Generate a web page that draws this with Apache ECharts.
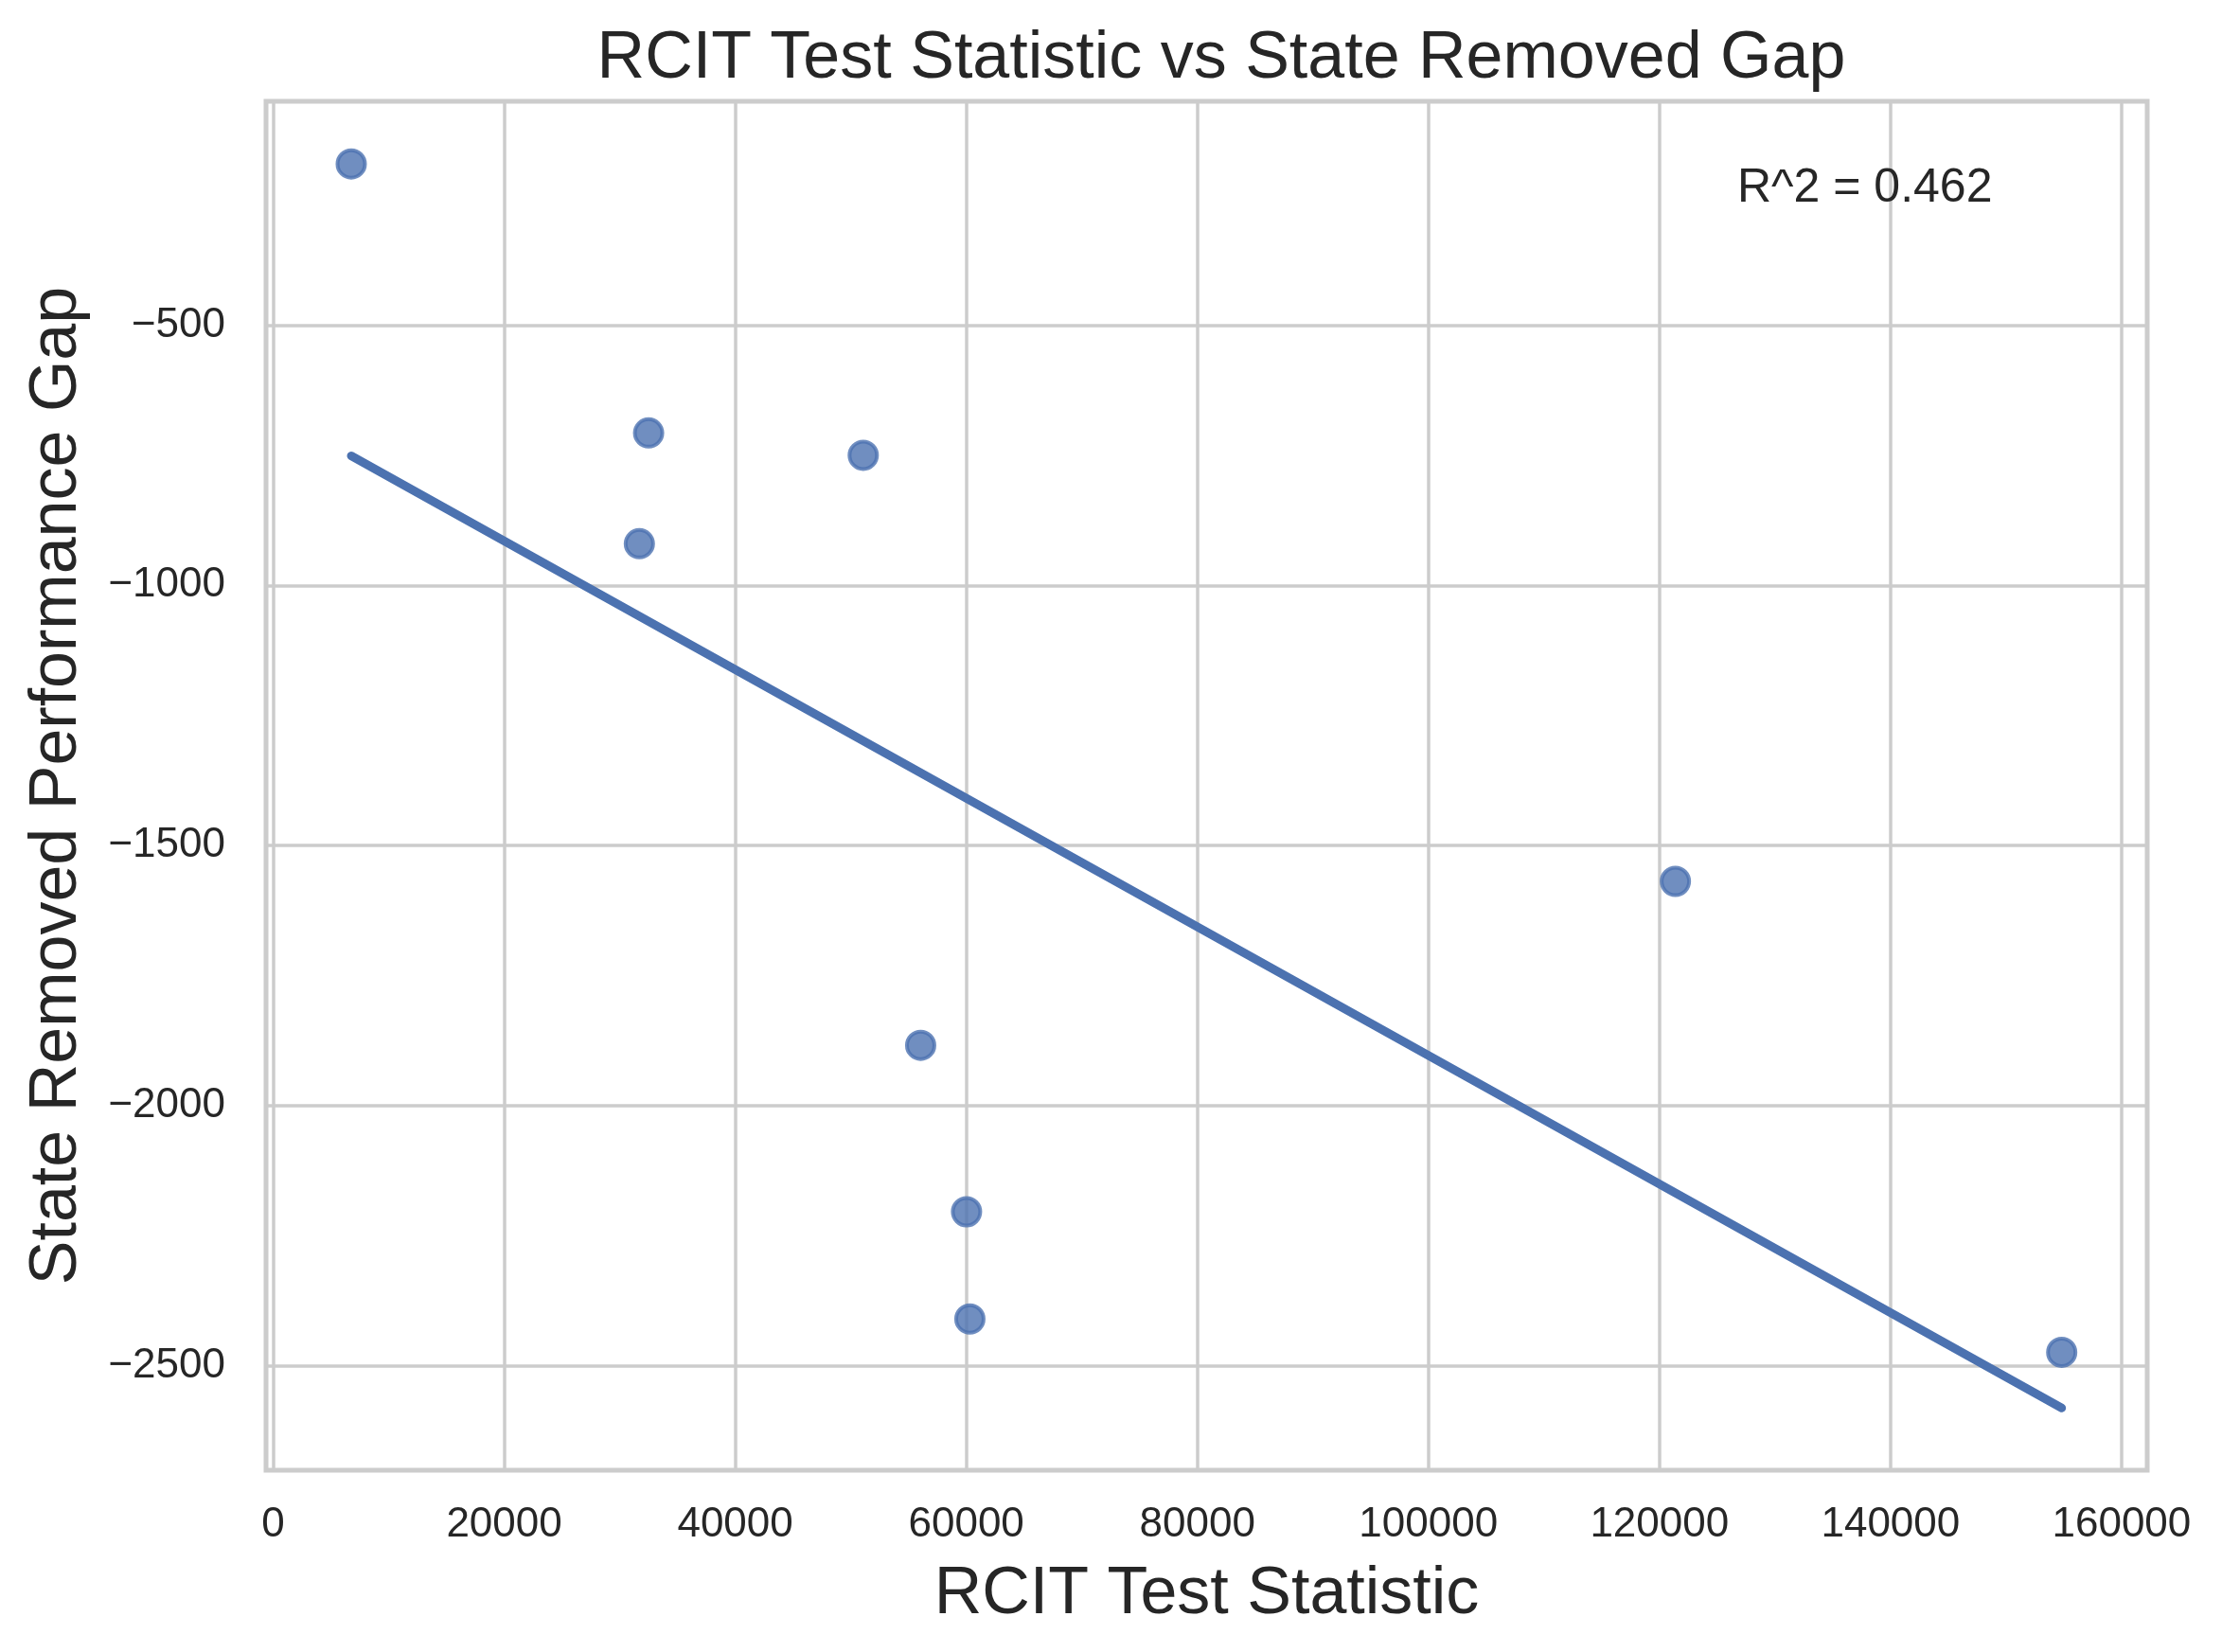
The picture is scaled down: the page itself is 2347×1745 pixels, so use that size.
<!DOCTYPE html>
<html>
<head>
<meta charset="utf-8">
<script src="https://cdn.jsdelivr.net/npm/echarts@6/dist/echarts.min.js"></script>
<style>
html,body{margin:0;padding:0;background:#fff;}
#chart{width:2347px;height:1745px;}
</style>
</head>
<body>
<div id="chart"></div>
<script>
// Data
const rcitStatistic = [6760, 32500, 31700, 51080, 56050, 60020, 60310, 121380, 154820];
const removedGap = [-190, -707, -920, -750, -1884, -2204, -2410, -1569, -2474];
// Regression line end points
const fitX = [6760, 154820];
const fitY = [-751, -2581];
const xTicks = [0, 20000, 40000, 60000, 80000, 100000, 120000, 140000, 160000];
const yTicks = [-2500, -2000, -1500, -1000, -500];
const titleText = 'RCIT Test Statistic vs State Removed Gap';
const xName = 'RCIT Test Statistic';
const yName = 'State Removed Performance Gap';
const r2Text = 'R^2 = 0.462';

const FONT = '"Liberation Sans", Arial, sans-serif';
const TEXT = '#262626';
const GRID = '#cccccc';
const BLUE = '#4C72B0';

const pts = rcitStatistic.map((x, i) => [x, removedGap[i]]);
const fit = fitX.map((x, i) => [x, fitY[i]]);

const chart = echarts.init(document.getElementById('chart'), null, {renderer: 'canvas'});
chart.setOption({
  animation: false,
  backgroundColor: '#ffffff',
  grid: {
    left: 281, right: 79, top: 107, bottom: 192,
    show: true, borderColor: GRID, borderWidth: 5, backgroundColor: 'transparent'
  },
  xAxis: {
    type: 'value', min: -615, max: 162221,
    name: xName, nameLocation: 'middle', nameGap: 97,
    nameTextStyle: {fontFamily: FONT, fontSize: 70, color: TEXT},
    axisLine: {show: false},
    axisTick: {show: false, customValues: xTicks},
    axisLabel: {customValues: xTicks, fontFamily: FONT, fontSize: 44, color: TEXT, margin: 36,
      formatter: v => String(v)},
    splitLine: {show: true, lineStyle: {color: GRID, width: 3.5}}
  },
  yAxis: {
    type: 'value', min: -2700.7, max: -69.6,
    name: yName, nameLocation: 'middle', nameGap: 185, nameRotate: 90,
    nameTextStyle: {fontFamily: FONT, fontSize: 70, color: TEXT},
    axisLine: {show: false},
    axisTick: {show: false, customValues: yTicks},
    axisLabel: {customValues: yTicks, fontFamily: FONT, fontSize: 44, color: TEXT, margin: 43,
      formatter: v => String(v).replace('-', '\u2212')},
    splitLine: {show: true, lineStyle: {color: GRID, width: 3.5}}
  },
  graphic: [
    {type: 'text', x: 1290, y: 63, style: {text: titleText, font: '70px ' + FONT, fill: TEXT, align: 'center', verticalAlign: 'middle'}},
    {type: 'text', x: 1835, y: 199, style: {text: r2Text, font: '50px ' + FONT, fill: TEXT, align: 'left', verticalAlign: 'middle'}, z: 10}
  ],
  series: [
    {
      type: 'line', data: fit, showSymbol: false, symbol: 'none',
      lineStyle: {color: BLUE, width: 9, cap: 'round'}, z: 3, silent: true
    },
    {
      type: 'scatter', data: pts, symbol: 'circle', symbolSize: 29,
      itemStyle: {color: 'rgba(76,114,176,0.8)', borderColor: 'rgba(76,114,176,0.8)', borderWidth: 4, opacity: 1},
      z: 4
    }
  ]
});
</script>
</body>
</html>
